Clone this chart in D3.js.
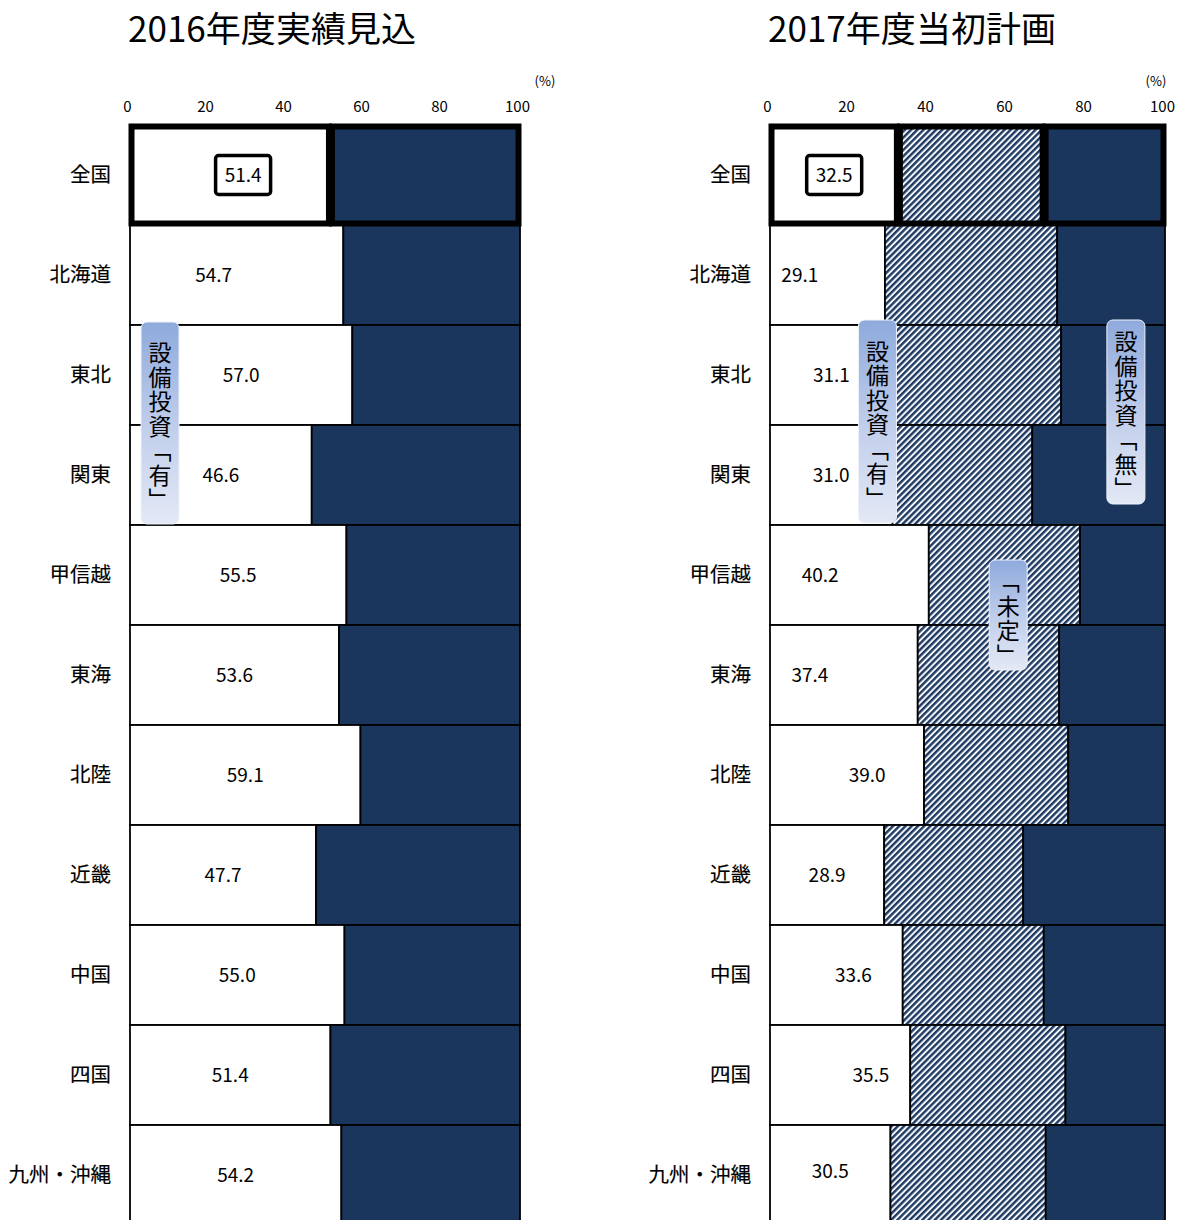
<!DOCTYPE html>
<html>
<head>
<meta charset="utf-8">
<script src="https://cdn.jsdelivr.net/npm/d3@7"></script>
<style>
  body { margin: 0; background: #fff; }
  svg { display: block; font-family: "Noto Sans CJK JP", "Noto Sans", sans-serif; }
</style>
</head>
<body>
<svg id="chart" width="1179" height="1220"></svg>
<script>
// Regions (rows, top to bottom)
const regions = ["全国", "北海道", "東北", "関東", "甲信越", "東海", "北陸", "近畿", "中国", "四国", "九州・沖縄"];

// 2016: share of firms with capital investment ("有"); remainder is "無"
const invest2016 = [51.4, 54.7, 57.0, 46.6, 55.5, 53.6, 59.1, 47.7, 55.0, 51.4, 54.2];

// 2017 plan: "有", "未定"; remainder is "無"
const invest2017 = [32.5, 29.1, 31.1, 31.0, 40.2, 37.4, 39.0, 28.9, 33.6, 35.5, 30.5];
const undecided2017 = [36.9, 43.6, 42.6, 35.4, 38.3, 35.8, 36.5, 35.2, 35.7, 39.3, 39.3];

const tickValues = [0, 20, 40, 60, 80, 100];
const titles = ["2016年度実績見込", "2017年度当初計画"];
const legendLabels = { yes: "設備投資「有」", no: "設備投資「無」", undecided: "「未定」" };

// Value-label offsets (percentage points) from the middle of the "有" segment
const labelShift2016 = [3.3, -5.9, 0, 0, 0, 0, 0, 0, 0, 0, 0];
const labelShift2017 = [0, -7.0, 0, 0, -7.4, -8.6, 5.1, 0, 4.3, 7.8, 0];

const NAVY = "#1b365d";
const FONT = '"Noto Sans CJK JP", "Noto Sans", sans-serif';

const svg = d3.select("#chart");
const defs = svg.append("defs");

// diagonal hatch for "未定"
const hatch = defs.append("pattern")
  .attr("id", "hatch")
  .attr("patternUnits", "userSpaceOnUse")
  .attr("width", 4.4).attr("height", 4.4)
  .attr("patternTransform", "rotate(45)");
hatch.append("rect").attr("width", 4.4).attr("height", 4.4).attr("fill", "#f4f6fa");
hatch.append("rect").attr("width", 2.4).attr("height", 4.4).attr("fill", "#1f3a62");

// soft blue gradient for the callout tags
const grad = defs.append("linearGradient")
  .attr("id", "tagGrad").attr("x1", 0).attr("y1", 0).attr("x2", 0).attr("y2", 1);
grad.append("stop").attr("offset", "0%").attr("stop-color", "#8eaadc");
grad.append("stop").attr("offset", "55%").attr("stop-color", "#c3d0ec");
grad.append("stop").attr("offset", "100%").attr("stop-color", "#e3e8f5");

const y = d3.scaleBand().domain(regions).range([125, 1225]).padding(0);

function segmentsFor(panelIdx, i) {
  if (panelIdx === 0) {
    const a = invest2016[i];
    return [
      { v0: 0, v1: a, fill: "#fff" },
      { v0: a, v1: 100, fill: NAVY }
    ];
  }
  const a = invest2017[i], b = a + undecided2017[i];
  return [
    { v0: 0, v1: a, fill: "#fff" },
    { v0: a, v1: b, fill: "url(#hatch)" },
    { v0: b, v1: 100, fill: NAVY }
  ];
}

function drawPanel(panelIdx, range, titleCenter, unitX) {
  const g = svg.append("g");
  const x = d3.scaleLinear().domain([0, 100]).range(range);

  // title
  g.append("text")
    .attr("x", titleCenter - 144).attr("y", 42)
    .attr("textLength", 288).attr("lengthAdjust", "spacing")
    .attr("font-size", 35).attr("font-family", FONT).attr("fill", "#000")
    .text(titles[panelIdx]);

  // top axis
  const axis = d3.axisTop(x).tickValues(tickValues).tickSize(0).tickPadding(3);
  const ag = g.append("g").attr("transform", "translate(-3,115)").call(axis);
  ag.select(".domain").remove();
  ag.selectAll("text")
    .attr("font-size", 15).attr("font-family", FONT).attr("fill", "#000");

  g.append("text")
    .attr("x", unitX).attr("y", 86)
    .attr("text-anchor", "middle")
    .attr("font-size", 13).attr("font-family", FONT).attr("fill", "#000")
    .text("(%)");

  // rows: draw the highlighted "全国" row last so its heavy frame stays on top
  const order = d3.range(1, regions.length).concat([0]);
  const shifts = panelIdx === 0 ? labelShift2016 : labelShift2017;
  const values = panelIdx === 0 ? invest2016 : invest2017;

  order.forEach(i => {
    const r = regions[i];
    const y0 = y(r), y1 = y0 + y.bandwidth();
    const heavy = i === 0;
    const rg = g.append("g");
    segmentsFor(panelIdx, i).forEach(s => {
      if (heavy) {
        rg.append("rect")
          .attr("x", x(s.v0) + 1.5).attr("y", y0 + 1.5)
          .attr("width", x(s.v1) - x(s.v0) - 3).attr("height", y1 - y0 - 3)
          .attr("fill", s.fill).attr("stroke", "#000").attr("stroke-width", 6);
      } else {
        rg.append("rect")
          .attr("x", x(s.v0)).attr("y", y0)
          .attr("width", x(s.v1) - x(s.v0)).attr("height", y1 - y0)
          .attr("fill", s.fill).attr("stroke", "#000").attr("stroke-width", 1.8);
      }
    });

    // region name
    g.append("text")
      .attr("x", range[0] - 19).attr("y", y0 + y.bandwidth() / 2)
      .attr("dy", "0.35em").attr("text-anchor", "end")
      .attr("font-size", 20.5).attr("font-family", FONT).attr("fill", "#000")
      .attr("stroke", "#000").attr("stroke-width", 0.15)
      .text(r);

    // value label
    const lx = x(values[i] / 2 + shifts[i]);
    const ly = y0 + y.bandwidth() / 2 - (i === regions.length - 1 && panelIdx === 1 ? 4 : 0);
    if (heavy) {
      rg.append("rect")
        .attr("x", lx - 27.5).attr("y", ly - 19.5)
        .attr("width", 55).attr("height", 39).attr("rx", 3)
        .attr("fill", "#fff").attr("stroke", "#000").attr("stroke-width", 3.5);
    }
    rg.append("text")
      .attr("x", lx).attr("y", ly).attr("dy", "0.35em")
      .attr("text-anchor", "middle")
      .attr("font-size", 19).attr("font-family", FONT).attr("fill", "#000")
      .text(values[i].toFixed(1));
  });

  return { g, x };
}

// callout tag with vertical (tategaki) text
function drawTag(g, cx, top, height, label) {
  const w = 38;
  g.append("rect")
    .attr("x", cx - w / 2).attr("y", top)
    .attr("width", w).attr("height", height)
    .attr("rx", 6).attr("ry", 6)
    .attr("fill", "url(#tagGrad)")
    .attr("stroke", "#eef2fa").attr("stroke-width", 1);
  g.append("text")
    .attr("x", cx).attr("y", top + height / 2 + 4)
    .attr("text-anchor", "middle")
    .style("writing-mode", "vertical-rl")
    .style("letter-spacing", "1.5px")
    .attr("font-size", 23).attr("font-family", FONT).attr("fill", "#000")
    .text(label);
}

const left = drawPanel(0, [130, 520], 272, 545);
const right = drawPanel(1, [770, 1165], 912, 1156);

// callout tags
drawTag(left.g, left.x(7.7), y("東北") - 3, 202, legendLabels.yes);
drawTag(right.g, right.x(27.2), y("東北") - 5, 203, legendLabels.yes);
drawTag(right.g, right.x(90.1), y("東北") - 5, 184, legendLabels.no);
drawTag(right.g, right.x(60.3), y("甲信越") + 35, 110, legendLabels.undecided);
</script>
</body>
</html>
